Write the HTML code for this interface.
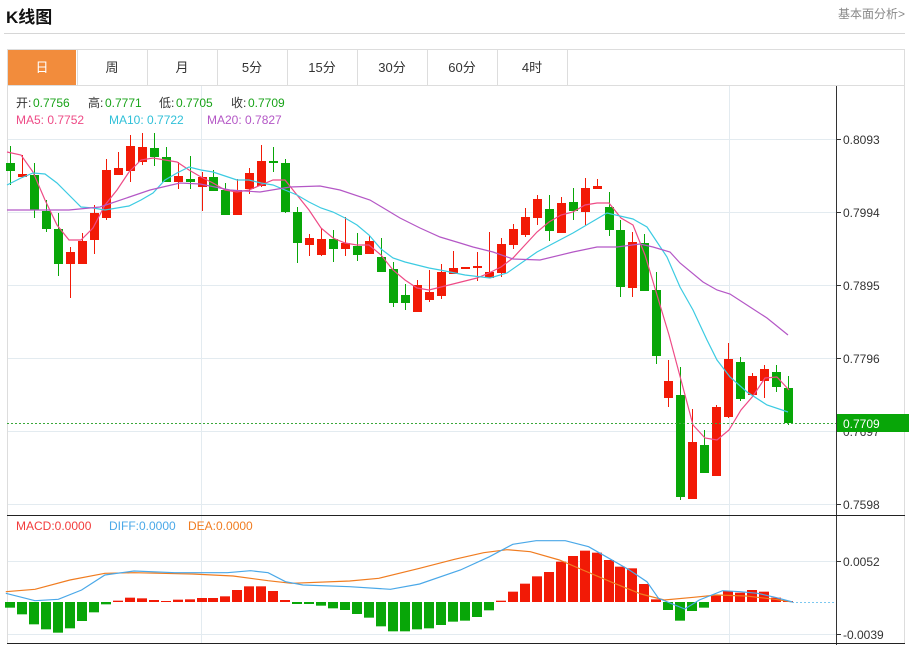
<!DOCTYPE html>
<html><head><meta charset="utf-8">
<style>
body{margin:0;background:#fff;width:909px;height:645px;overflow:hidden;font-family:"Liberation Sans","Noto Sans CJK SC",sans-serif;}
.t{position:absolute;white-space:nowrap}
</style></head><body>
<div class="t" style="left:6px;top:3px;font-size:17px;font-weight:bold;color:#111">K线图</div>
<div class="t" style="right:4px;top:5px;font-size:12px;color:#888">基本面分析&gt;</div>
<div style="position:absolute;left:4px;top:33px;width:901px;height:1px;background:#d6d6d6"></div>
<svg id="s" width="909" height="645" style="position:absolute;left:0;top:0" xmlns="http://www.w3.org/2000/svg" font-family="Liberation Sans, Noto Sans CJK SC, sans-serif"></svg>
<script>
var S=document.getElementById('s'),h='';
function L(x1,y1,x2,y2,c,w,d){h+='<line x1="'+x1+'" y1="'+y1+'" x2="'+x2+'" y2="'+y2+'" stroke="'+c+'" stroke-width="'+(w||1)+'"'+(d?' stroke-dasharray="'+d+'"':'')+'/>';}
function R(x,y,w,hh,c){h+='<rect x="'+x+'" y="'+y+'" width="'+w+'" height="'+hh+'" fill="'+c+'"/>';}
function T(x,y,s,c,sz,a){h+='<text x="'+x+'" y="'+y+'" fill="'+c+'" font-size="'+(sz||12)+'"'+(a?' text-anchor="'+a+'"':'')+'>'+s+'</text>';}
function P(pts,c,w){h+='<polyline fill="none" stroke="'+c+'" stroke-width="'+(w||1.2)+'" points="'+pts.map(function(p){return p[0]+','+p[1]}).join(' ')+'"/>';}
// tabs
h+='<rect x="7.5" y="49.5" width="897" height="594" fill="none" stroke="#ddd"/>';
L(7,85.5,905,85.5,'#ddd');
var tabs=['日','周','月','5分','15分','30分','60分','4时'];
R(8,50,68,35,'#f28c3c');
for(var i=0;i<8;i++){var x=7+i*70;L(x+70+.5,50,x+70+.5,85,'#ddd');T(x+35,72,tabs[i],i==0?'#fff':'#333',13,'middle');}
// grid
[139,212,285,358,431,504].forEach(function(y){L(8,y+.5,836,y+.5,'#e3ebf0');});
[561,634].forEach(function(y){L(8,y+.5,836,y+.5,'#e3ebf0');});
L(201.5,86,201.5,643,'#e3ebf0');L(729.5,86,729.5,643,'#e3ebf0');
L(836.5,86,836.5,645,'#333');L(7,515.5,905,515.5,'#222');L(7,643.5,905,643.5,'#222');
var labs=[['0.8093',139],['0.7994',212],['0.7895',285],['0.7796',358],['0.7697',431],['0.7598',504]];
labs.forEach(function(a){L(836,a[1]+.5,841,a[1]+.5,'#333');T(843,a[1]+5,a[0],'#333',12);});
L(836,561.5,841,561.5,'#333');T(843,566,'0.0052','#333',12);
L(836,634.5,841,634.5,'#333');T(843,639,'-0.0039','#333',12);
// candles [x, open?] data: color, bodyTop, bodyBot, wickTop, wickBot
var C=[['g',163,171,146,185],['r',174,177,155,178],['g',175,210,163,218],['g',211,229,200,232],['g',229,264,213,276],['r',252,264,247,298],['r',241,264,233,264],['r',213,240,205,254],['r',170,218,159,220],['r',168,175,152,175],['r',146,171,135,182],['r',147,162,133,165],['g',148,157,133,166],['g',157,182,147,182],['r',176,182,162,189],['g',179,182,156,189],['r',177,187,172,211],['g',177,191,170,191],['g',190,215,183,215],['r',190,215,179,215],['r',173,189,168,194],['r',161,186,145,187],['g',161,163,147,172],['g',163,212,159,213],['g',212,243,207,263],['r',238,245,234,256],['r',239,255,228,256],['g',239,249,230,262],['r',243,249,217,256],['g',246,255,233,261],['r',241,254,236,254],['g',257,272,238,272],['g',269,303,262,307],['g',295,303,284,310],['r',285,312,280,312],['r',292,300,270,302],['r',272,296,264,299],['r',268,274,251,274],['r',267,268,267,268],['r',266,267,252,281],['r',272,278,232,278],['r',244,273,238,277],['r',229,245,224,249],['r',217,235,208,237],['r',199,218,195,225],['g',209,231,195,241],['r',203,233,197,233],['g',202,211,188,220],['r',188,212,178,225],['r',186,189,179,189],['g',207,230,192,236],['g',230,287,220,297],['r',242,288,232,297],['g',243,291,234,291],['g',290,356,272,364],['r',381,398,360,407],['g',395,497,367,500],['r',442,499,409,499],['g',445,473,430,473],['r',407,476,405,476],['r',359,417,343,418],['g',362,399,357,401],['r',376,395,373,395],['r',369,381,365,398],['g',372,387,365,392],['g',388,423,376,425]];
var RC='#f21a06',GC='#08a608';
C.forEach(function(c,i){var x=Math.round(10+11.97*i),col=c[0]=='r'?RC:GC;L(x+.5,c[3],x+.5,c[4],col,1);R(x-4,c[1],9,Math.max(2,c[2]-c[1]),col);});
// MAs
P([[7,152],[21,155],[33,172],[45,200],[57,225],[69,240],[81,240],[93,228],[105,205],[117,190],[129,172],[141,160],[153,158],[165,160],[177,162],[189,170],[201,177],[213,183],[225,190],[237,192],[249,190],[261,185],[273,180],[285,180],[297,195],[309,210],[321,228],[333,238],[345,243],[357,245],[369,245],[381,255],[393,270],[405,280],[417,288],[429,290],[441,287],[453,284],[465,281],[477,278],[489,273],[501,267],[513,258],[525,245],[537,232],[549,222],[561,215],[573,212],[585,205],[597,203],[609,203],[621,218],[633,225],[645,255],[657,295],[669,335],[681,380],[693,425],[705,438],[717,440],[729,430],[741,410],[753,396],[765,378],[777,377],[789,390]],'#ee4b86');
P([[7,185],[21,178],[33,173],[45,174],[57,183],[69,195],[81,207],[93,208],[105,210],[117,208],[129,206],[141,200],[153,193],[165,180],[177,173],[189,167],[201,170],[213,172],[225,176],[237,180],[249,180],[261,183],[273,185],[285,190],[297,195],[309,202],[321,208],[333,212],[345,218],[357,225],[369,235],[381,249],[393,258],[405,262],[417,265],[429,268],[440,270],[465,275],[490,278],[507,273],[537,252],[573,233],[607,213],[633,219],[647,227],[667,257],[680,287],[693,310],[707,340],[717,360],[730,377],[747,392],[767,405],[788,412]],'#3ccbe2');
P([[7,210],[69,210],[100,207],[150,190],[180,183],[200,184],[230,190],[260,192],[290,187],[320,186],[340,190],[370,200],[400,218],[420,228],[440,237],[460,243],[473,247],[493,252],[513,259],[540,260],[573,252],[597,247],[617,247],[640,244],[653,247],[670,252],[680,263],[703,282],[717,290],[730,294],[750,307],[767,318],[788,335]],'#b457c6');
L(7,423.5,836,423.5,'#3aa83a',1,'2,2');
R(837,414,72,18,'#08a608');T(843,428,'0.7709','#fff',12);
// info
T(16,107,'开:','#333',12);T(33,107,'0.7756','#19a319',12);
T(88,107,'高:','#333',12);T(105,107,'0.7771','#19a319',12);
T(159,107,'低:','#333',12);T(176,107,'0.7705','#19a319',12);
T(231,107,'收:','#333',12);T(248,107,'0.7709','#19a319',12);
T(16,124,'MA5: 0.7752','#ee4b86',12);T(109,124,'MA10: 0.7722','#30c0d8',12);T(207,124,'MA20: 0.7827','#b457c6',12);
T(16,530,'MACD:0.0000','#f23c3c',12);T(109,530,'DIFF:0.0000','#4aa8e8',12);T(188,530,'DEA:0.0000','#f07c20',12);
// MACD bars
var M=[293,313,343,358,368,355,333,307,283,272,263,265,270,273,269,268,264,264,259,240,229,229,243,270,282,282,287,295,300,312,323,349,364,364,358,355,345,335,332,321,301,272,245,221,199,186,155,138,122,128,150,170,175,222,268,300,332,303,293,255,243,248,240,245,263,273];
M.forEach(function(v,i){var x=Math.round(10+11.97*i),y=510+v/3,z=602;if(v>276)R(x-5,z,10,y-z,GC);else R(x-5,y,10,z-y,RC);});
function conv(a){return a.map(function(p){return [(p[0]/1.716).toFixed(1),(510+p[1]/3).toFixed(1)]});}
P(conv([[10,245],[60,238],[120,210],[180,190],[230,188],[330,192],[400,198],[460,212],[500,220],[600,213],[650,205],[720,175],[780,148],[830,128],[870,119],[910,125],[960,150],[1000,180],[1050,217],[1100,252],[1140,270],[1190,262],[1230,255],[1280,258],[1330,268],[1360,276]]),'#f07c20',1.2);
P(conv([[10,250],[60,272],[100,268],[140,240],[180,195],[230,183],[300,188],[390,188],[430,182],[460,188],[490,215],[520,225],[600,230],[670,238],[720,222],[790,180],[840,140],[880,103],[920,92],[970,92],[1010,110],[1040,140],[1080,180],[1110,215],[1130,265],[1175,297],[1200,270],[1240,242],[1270,245],[1300,250],[1330,262],[1360,276]]),'#4aa8e8',1.2);
L(792,602.5,836,602.5,'#7cc8f0',1,'2,2');
S.innerHTML=h;
</script>
</body></html>
